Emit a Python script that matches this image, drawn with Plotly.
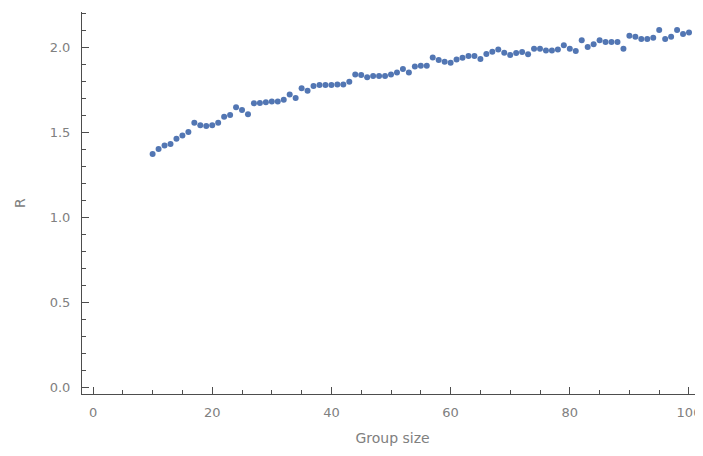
import plotly.graph_objects as go

group_size = list(range(10, 101))
r_values = [
    1.37, 1.40, 1.42, 1.43, 1.46, 1.48, 1.50, 1.555, 1.54, 1.535,   # 10-19
    1.54, 1.555, 1.59, 1.60, 1.645, 1.63, 1.605, 1.669, 1.67, 1.675,  # 20-29
    1.68, 1.68, 1.69, 1.72, 1.70, 1.757, 1.743, 1.77, 1.776, 1.776,   # 30-39
    1.776, 1.78, 1.78, 1.796, 1.839, 1.835, 1.822, 1.829, 1.829, 1.83,  # 40-49
    1.839, 1.85, 1.87, 1.85, 1.885, 1.89, 1.89, 1.939, 1.924, 1.914,  # 50-59
    1.908, 1.927, 1.937, 1.947, 1.947, 1.929, 1.959, 1.972, 1.986, 1.966,  # 60-69
    1.953, 1.965, 1.97, 1.957, 1.99, 1.99, 1.98, 1.98, 1.985, 2.01,   # 70-79
    1.99, 1.976, 2.04, 2.00, 2.016, 2.04, 2.03, 2.03, 2.03, 1.99,     # 80-89
    2.067, 2.06, 2.047, 2.047, 2.055, 2.10, 2.047, 2.06, 2.10, 2.076,  # 90-99
    2.086,                                                           # 100
]

x_ticks = [0, 20, 40, 60, 80, 100]
y_ticks = [0.0, 0.5, 1.0, 1.5, 2.0]
y_tick_text = ["0.0", "0.5", "1.0", "1.5", "2.0"]

axis_color = "#4d4d4d"
label_color = "#808080"
font_family = "DejaVu Sans"

fig = go.Figure()
fig.add_trace(go.Scatter(
    x=group_size, y=r_values, mode="markers",
    marker=dict(color="#5276b3", size=6, line=dict(width=0)),
    showlegend=False,
))

# the page body adds an 8px offset, so the figure is sized to fill the rest
fig.update_layout(
    width=695, height=448,
    margin=dict(l=74, r=0, t=4, b=62),
    paper_bgcolor="white", plot_bgcolor="white",
    font=dict(family=font_family, size=13, color=label_color),
)
fig.update_xaxes(
    range=[-1.85, 102.35],
    automargin=False,
    tickvals=x_ticks,
    ticks="inside", ticklen=7, tickwidth=1, tickcolor=axis_color,
    minor=dict(dtick=5, ticks="inside", ticklen=4, tickwidth=1, tickcolor=axis_color, showgrid=False),
    showline=True, linecolor=axis_color, linewidth=1,
    showgrid=False, zeroline=False,
    ticklabelstandoff=6,
    tickfont=dict(size=13, color=label_color),
    title=dict(text="Group size", font=dict(size=14, color=label_color), standoff=14),
)
fig.update_yaxes(
    range=[-0.041, 2.206],
    automargin=False,
    tickvals=y_ticks, ticktext=y_tick_text,
    ticks="inside", ticklen=7, tickwidth=1, tickcolor=axis_color,
    minor=dict(dtick=0.1, ticks="inside", ticklen=4, tickwidth=1, tickcolor=axis_color, showgrid=False),
    showline=True, linecolor=axis_color, linewidth=1,
    showgrid=False, zeroline=False,
    ticklabelstandoff=8,
    tickfont=dict(size=13, color=label_color),
    title=dict(text="R", font=dict(size=14, color=label_color), standoff=20),
)

fig.write_html("out.html")
